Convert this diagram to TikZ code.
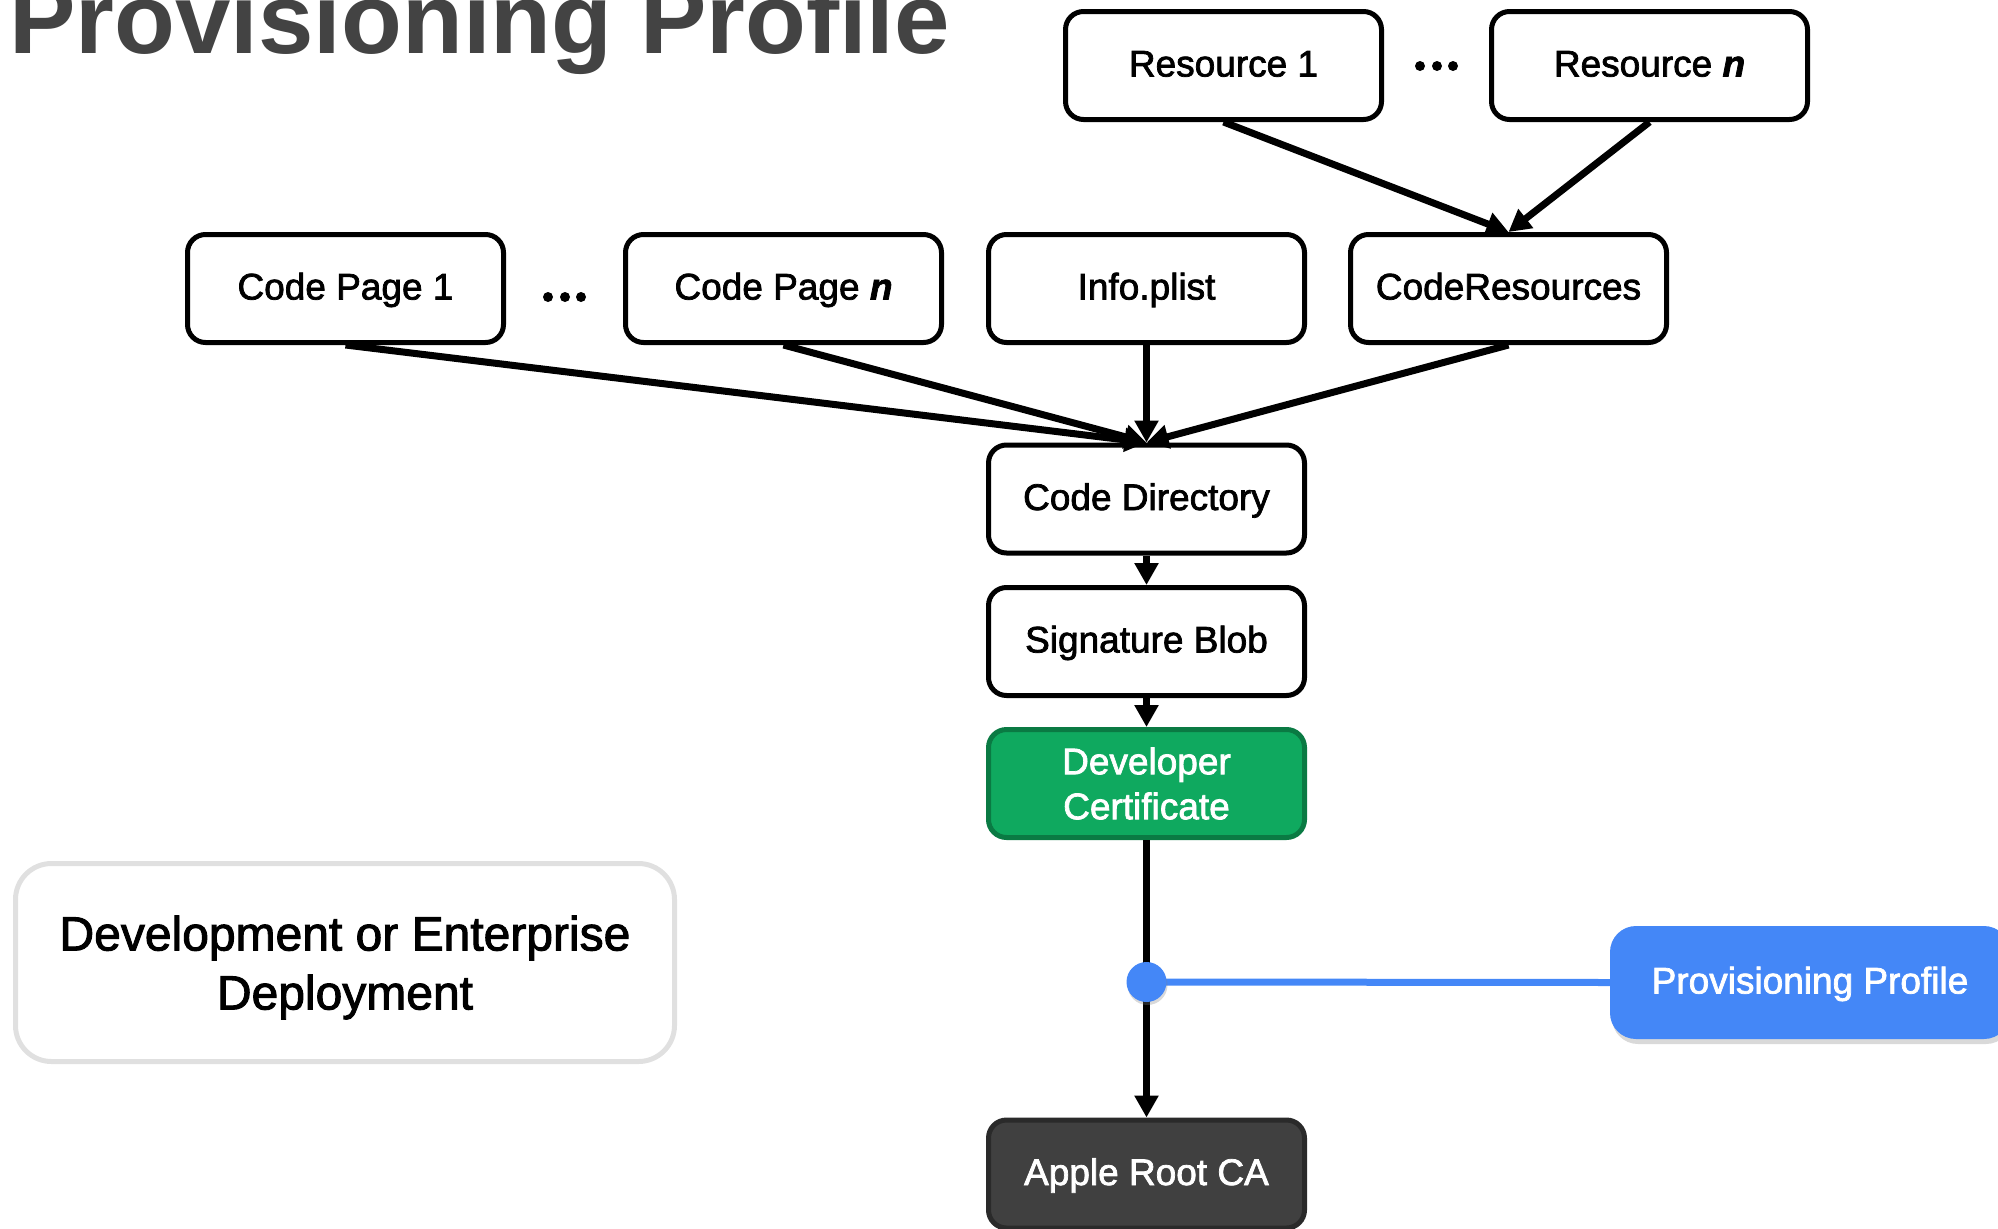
\documentclass[tikz,border=0pt]{standalone}
\usepackage{fontspec}
\setmainfont{Liberation Sans}
\newfontfamily\boxfont{Liberation Sans}[FakeBold=2]
\usetikzlibrary{arrows.meta,shadows}
\definecolor{titlegray}{HTML}{434343}
\definecolor{certgreen}{HTML}{0FA95F}
\definecolor{certborder}{HTML}{0A7A43}
\definecolor{rootfill}{HTML}{404040}
\definecolor{rootborder}{HTML}{2A2A2A}
\definecolor{ppblue}{HTML}{4487F7}
\definecolor{devborder}{HTML}{E0E0E0}
\begin{document}
\begin{tikzpicture}[x=1pt,y=-1pt,
  basebox/.style={draw=black, line width=5pt, rounded corners=18pt, fill=white,
    minimum width=316pt, minimum height=108pt, inner sep=0pt, align=center,
    font=\boxfont\fontsize{37}{45}\selectfont},
  box/.style={basebox, text height=22pt, text depth=0pt},
  certbox/.style={basebox, draw=certborder, fill=certgreen, text=white},
  rootbox/.style={box, draw=rootborder, fill=rootfill, text=white},
  ppbox/.style={draw=none, fill=ppblue, rounded corners=26pt, text=white,
    minimum width=400pt, minimum height=113pt, inner sep=0pt,
    text height=22pt, text depth=0pt,
    font=\boxfont\fontsize{37}{45}\selectfont,
    drop shadow={opacity=0.3, shadow xshift=2pt, shadow yshift=-5pt}},
  devbox/.style={draw=devborder, line width=5pt, rounded corners=36pt,
    minimum width=659pt, minimum height=198pt, inner sep=0pt},
  devtext/.style={inner sep=0pt, align=center,
    font=\boxfont\fontsize{48}{59}\selectfont},
  conn/.style={line width=7pt, -{Triangle[length=22pt,width=23pt]}},
  dotdot/.style={circle, fill=black, inner sep=0pt, minimum size=10pt},
]
\useasboundingbox (0,0) rectangle (1998,1229);

% title
\node[anchor=base west, inner sep=0pt, text=titlegray,
  font=\bfseries\fontsize{99.6}{110}\selectfont] (title) at (9,53) {Provisioning Profile};

% top row
\node[box] (r1) at (1223.5,65.5) {Resource 1};
\node[box] (rn) at (1649.5,65.5) {Resource \textbf{\textit{n}}};
\node[dotdot] (rd1) at (1420,66) {};
\node[dotdot] (rd2) at (1437,66) {};
\node[dotdot] (rd3) at (1453,66) {};

% second row
\node[box] (cp1) at (345.5,288.5) {Code Page 1};
\node[box] (cpn) at (783.5,288.5) {Code Page \textbf{\textit{n}}};
\node[box] (info) at (1146.5,288.5) {Info.plist};
\node[box] (cres) at (1508.5,288.5) {CodeResources};
\node[dotdot] (cd1) at (548,297) {};
\node[dotdot] (cd2) at (565,297) {};
\node[dotdot] (cd3) at (581,297) {};

% chain
\node[box] (cdir) at (1146.5,499) {Code Directory};
\node[box] (sig) at (1146.5,641.5) {Signature Blob};
\node[certbox] (cert) at (1146.5,783.5) {Developer\\Certificate};
\node[rootbox] (root) at (1146.5,1174) {Apple Root CA};

% provisioning profile
\node[ppbox] (pp) at (1810,982.5) {Provisioning Profile};

% left box
\node[devbox] (dev) at (345,962.5) {};
\node[devtext] (devlabel) at ([yshift=-5pt]dev.center) {Development or Enterprise\\Deployment};

% connectors
\draw[conn] (r1.south) -- (cres.north);
\draw[conn] (rn.south) -- (cres.north);
\draw[conn] (cp1.south) -- (cdir.north);
\draw[conn] (cpn.south) -- (cdir.north);
\draw[conn] (info.south) -- (cdir.north);
\draw[conn] (cres.south) -- (cdir.north);
\draw[conn] (cdir.south) -- (sig.north);
\draw[conn] (sig.south) -- (cert.north);
\draw[conn] (cert.south) -- (root.north);

\coordinate (joint) at (1146.5,982);
\draw[ppblue, line width=7pt] (joint) -- (pp.west);
\node[circle, fill=ppblue, inner sep=0pt, minimum size=40pt,
  drop shadow={opacity=0.3, shadow xshift=1pt, shadow yshift=-3pt}] (dot) at (joint) {};
\end{tikzpicture}
\end{document}
